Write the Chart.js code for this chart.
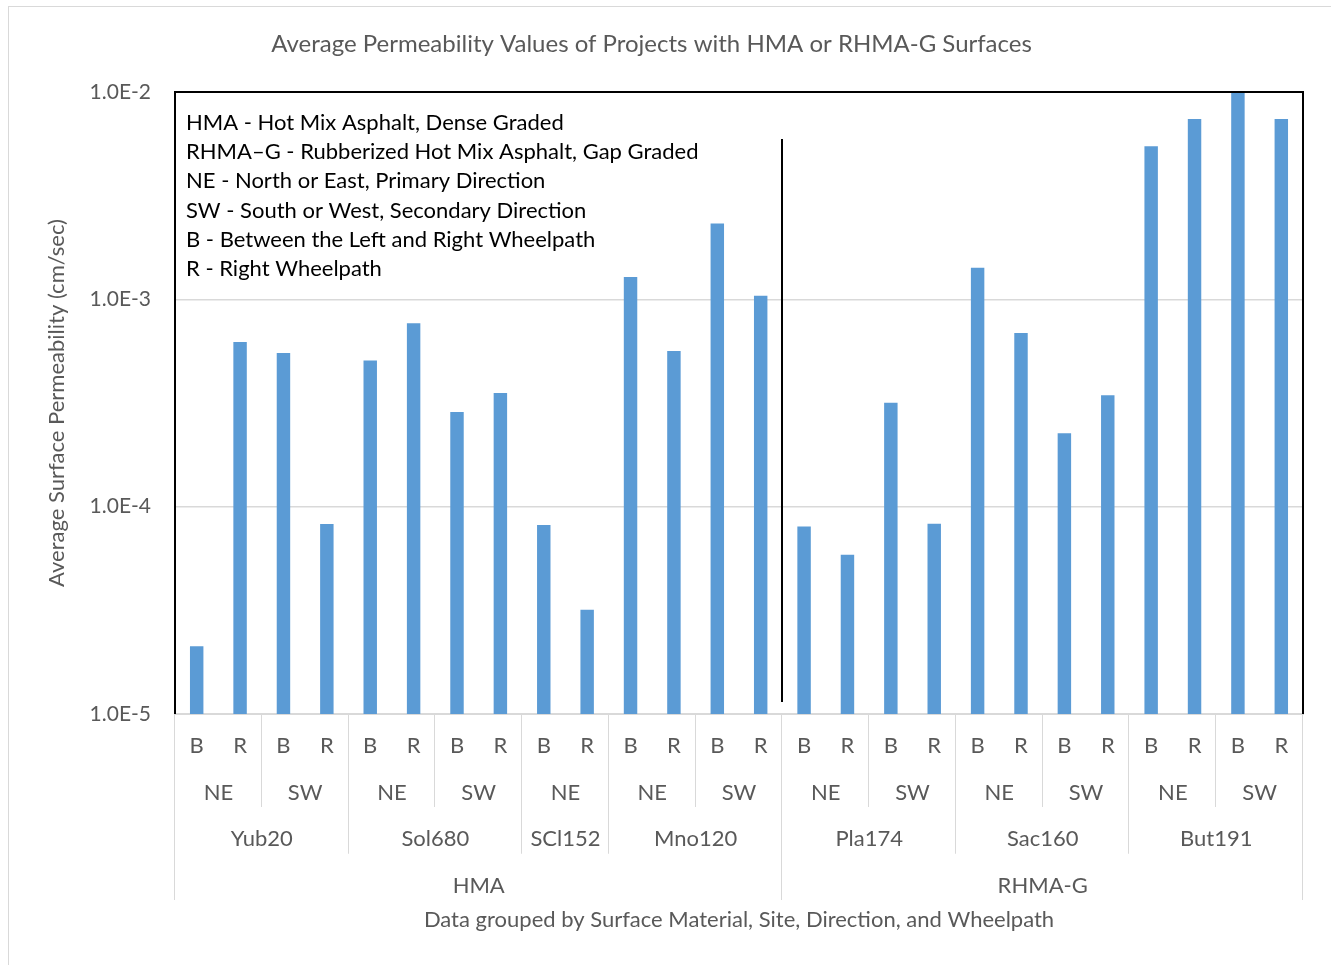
<!DOCTYPE html>
<html>
<head>
<meta charset="utf-8">
<script src="https://cdn.jsdelivr.net/npm/chart.js@4"></script>
<style>
  body { margin: 0; background: #fff; }
  canvas { display: block; }
</style>
</head>
<body>
<canvas id="permChart" width="1331" height="965"></canvas>
<script>
// categories, innermost level first
const wheelpath = ['B','R','B','R', 'B','R','B','R', 'B','R', 'B','R','B','R',
                   'B','R','B','R', 'B','R','B','R', 'B','R','B','R'];
const direction = ['NE','NE','SW','SW', 'NE','NE','SW','SW', 'NE','NE', 'NE','NE','SW','SW',
                   'NE','NE','SW','SW', 'NE','NE','SW','SW', 'NE','NE','SW','SW'];
const site = ['Yub20','Yub20','Yub20','Yub20', 'Sol680','Sol680','Sol680','Sol680',
              'SCl152','SCl152', 'Mno120','Mno120','Mno120','Mno120',
              'Pla174','Pla174','Pla174','Pla174', 'Sac160','Sac160','Sac160','Sac160',
              'But191','But191','But191','But191'];
const material = ['HMA','HMA','HMA','HMA','HMA','HMA','HMA','HMA','HMA','HMA','HMA','HMA','HMA','HMA',
                  'RHMA-G','RHMA-G','RHMA-G','RHMA-G','RHMA-G','RHMA-G','RHMA-G','RHMA-G','RHMA-G','RHMA-G','RHMA-G','RHMA-G'];

// average surface permeability, cm/sec
const permeability = [2.12e-5, 6.22e-4, 5.51e-4, 8.24e-5,
                      5.07e-4, 7.66e-4, 2.86e-4, 3.53e-4,
                      8.16e-5, 3.18e-5,
                      1.28e-3, 5.63e-4, 2.32e-3, 1.04e-3,
                      8.03e-5, 5.86e-5, 3.17e-4, 8.28e-5,
                      1.42e-3, 6.89e-4, 2.26e-4, 3.45e-4,
                      5.48e-3, 7.40e-3, 1.0e-2, 7.40e-3];

const yTicks = [1e-5, 1e-4, 1e-3, 1e-2];

const notes = [
    'HMA - Hot Mix Asphalt, Dense Graded',
    'RHMA\u2013G - Rubberized Hot Mix Asphalt, Gap Graded',
    'NE - North or East, Primary Direction',
    'SW - South or West, Secondary Direction',
    'B - Between the Left and Right Wheelpath',
    'R - Right Wheelpath'
];

const FONT = 'Lato, "Open Sans", sans-serif';
const GREY_TEXT = '#595959';
const GRID = '#d9d9d9';

// runs of equal keys for a level (key includes the outer levels)
function runs(level) {
    const levels = [wheelpath, direction, site, material];
    const out = [];
    for (let i = 0; i < wheelpath.length; i++) {
        const key = levels.slice(level).map(l => l[i]).join('|');
        if (out.length && out[out.length - 1].key === key) {
            out[out.length - 1].end = i;
        } else {
            out.push({key: key, label: levels[level][i], start: i, end: i});
        }
    }
    return out;
}

const multiLevelAxis = {
    id: 'multiLevelAxis',
    afterDraw(chart) {
        const {ctx, chartArea, scales: {x}} = chart;
        const half = (x.getPixelForValue(1) - x.getPixelForValue(0)) / 2;
        const edge = i => x.getPixelForValue(i) - half;
        const rowH = 46.5;
        const base = chartArea.bottom;

        ctx.save();

        // outer chart border
        ctx.strokeStyle = GRID;
        ctx.lineWidth = 1;
        ctx.strokeRect(8.5, 6.5, 1400, 1000);

        // plot area frame (left, top, right)
        ctx.strokeStyle = '#000';
        ctx.lineWidth = 2;
        ctx.beginPath();
        ctx.moveTo(chartArea.left, chartArea.bottom);
        ctx.lineTo(chartArea.left, chartArea.top);
        ctx.lineTo(chartArea.right, chartArea.top);
        ctx.lineTo(chartArea.right, chartArea.bottom);
        ctx.stroke();

        // divider between the two surface materials
        const matRuns = runs(3);
        ctx.beginPath();
        for (let k = 1; k < matRuns.length; k++) {
            const xx = Math.round(edge(matRuns[k].start));
            ctx.moveTo(xx, chartArea.top + 47);
            ctx.lineTo(xx, chartArea.bottom - 12);
        }
        ctx.stroke();

        // notes box text
        ctx.fillStyle = '#000';
        ctx.font = '22px ' + FONT;
        ctx.textAlign = 'left';
        ctx.textBaseline = 'middle';
        notes.forEach((t, i) => ctx.fillText(t, chartArea.left + 11, chartArea.top + 31 + i * 29.2));

        // category rows
        ctx.fillStyle = GREY_TEXT;
        ctx.font = '22px ' + FONT;
        ctx.textAlign = 'center';
        ctx.strokeStyle = GRID;
        ctx.lineWidth = 1;
        for (let level = 0; level < 4; level++) {
            const rowTop = base + level * rowH;
            runs(level).forEach(r => {
                const x0 = edge(r.start), x1 = edge(r.end + 1);
                ctx.fillText(r.label, (x0 + x1) / 2, rowTop + 32);
                if (level > 0) {
                    ctx.beginPath();
                    [x0, x1].forEach(xx => {
                        const px = Math.round(xx) - 0.5;
                        ctx.moveTo(px, base);
                        ctx.lineTo(px, rowTop + rowH);
                    });
                    ctx.stroke();
                }
            });
        }

        // x axis title
        ctx.font = '22px ' + FONT;
        ctx.fillText('Data grouped by Surface Material, Site, Direction, and Wheelpath',
            (chartArea.left + chartArea.right) / 2, 920);

        ctx.restore();
    }
};

new Chart(document.getElementById('permChart'), {
    type: 'bar',
    data: {
        labels: wheelpath,
        datasets: [{
            label: 'Average Surface Permeability',
            data: permeability,
            backgroundColor: '#5b9bd5',
            barPercentage: 0.31,
            categoryPercentage: 1.0
        }]
    },
    options: {
        responsive: false,
        animation: false,
        devicePixelRatio: 1,
        layout: { padding: { left: 0, right: 28, top: 0, bottom: 0 } },
        plugins: {
            legend: { display: false },
            tooltip: { enabled: false },
            title: {
                display: true,
                text: 'Average Permeability Values of Projects with HMA or RHMA-G Surfaces',
                color: GREY_TEXT,
                font: { family: FONT, size: 24, weight: 'normal', lineHeight: 1.2 },
                padding: { top: 29.6, bottom: 33.6 }
            }
        },
        scales: {
            x: {
                ticks: { display: false },
                grid: { display: false },
                border: { color: GRID, width: 2 },
                afterFit(scale) { scale.height = 251; }
            },
            y: {
                type: 'logarithmic',
                min: 1e-5,
                max: 1e-2,
                afterBuildTicks(scale) { scale.ticks = yTicks.map(v => ({value: v})); },
                afterFit(scale) { scale.width = 175; },
                ticks: {
                    color: GREY_TEXT,
                    font: { family: FONT, size: 21 },
                    padding: 24,
                    callback: v => Number(v).toExponential(1).toUpperCase()
                },
                grid: { color: GRID, lineWidth: 1.5, drawTicks: false },
                border: { display: false },
                title: {
                    display: true,
                    text: 'Average Surface Permeability (cm/sec)',
                    color: GREY_TEXT,
                    font: { family: FONT, size: 22, lineHeight: 1.2 },
                    padding: { top: 43.8, bottom: 0 }
                }
            }
        }
    },
    plugins: [multiLevelAxis]
});
</script>
</body>
</html>
